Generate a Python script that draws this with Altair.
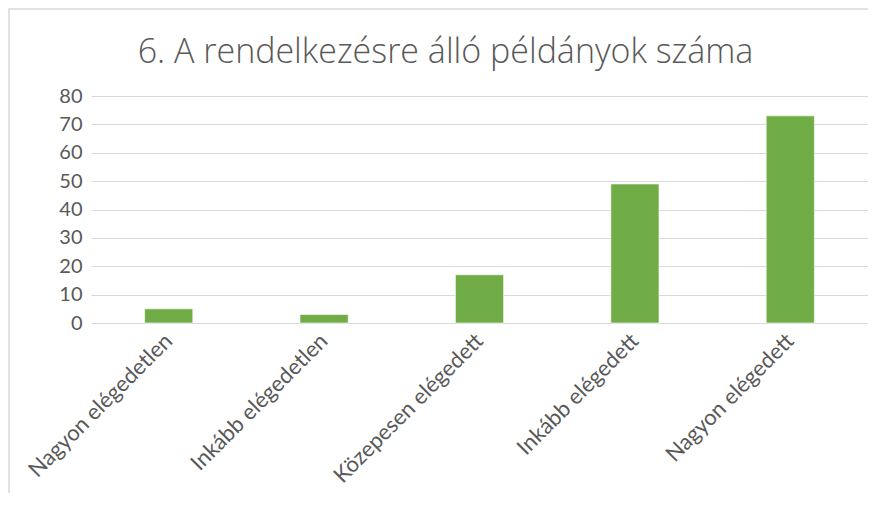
import altair as alt
import pandas as pd

categories = ["Nagyon elégedetlen", "Inkább elégedetlen", "Közepesen elégedett",
              "Inkább elégedett", "Nagyon elégedett"]
values = [5, 3, 17, 49, 73]
y_ticks = [0, 10, 20, 30, 40, 50, 60, 70, 80]
title_text = "6. A rendelkezésre álló példányok száma"

df = pd.DataFrame({"cat": categories, "val": values})

FONT = "Lato"
GREY = "#595959"

bars = alt.Chart(df).mark_bar(color="#70AD47", stroke="#ffffff", strokeWidth=0.6).encode(
    x=alt.X("cat:N", sort=categories, title=None,
            scale=alt.Scale(paddingInner=0.69, paddingOuter=0.345),
            axis=alt.Axis(labelAngle=-45, labelAlign="right", labelBaseline="middle",
                          labelPadding=14, ticks=False, domain=False,
                          labelFontSize=22, labelColor=GREY, labelFont=FONT,
                          labelLimit=400)),
    y=alt.Y("val:Q", title=None,
            scale=alt.Scale(domain=[0, 80], nice=False),
            axis=alt.Axis(values=y_ticks, ticks=False, domain=False,
                          labelPadding=9, labelFontSize=20, labelColor=GREY,
                          labelFont=FONT, gridColor="#d9d9d9", gridWidth=1.2)),
)

border = alt.Chart(pd.DataFrame({"b": [0]})).mark_rect(
    filled=False, stroke="#d9d9d9", strokeWidth=1.5
).encode(
    x=alt.value(-82), y=alt.value(-87), x2=alt.value(900), y2=alt.value(520)
)

chart = alt.layer(border, bars).properties(
    width=777, height=227,
    autosize=alt.AutoSizeParams(type="none"),
    padding={"left": 83, "top": 88, "right": 0, "bottom": 170},
    title=alt.TitleParams(title_text, fontSize=34, font="Open Sans", fontWeight=300,
                          color=GREY, anchor="middle", dx=-34, offset=-62),
).configure_view(stroke=None)

chart.save("out.html", embed_options={"renderer": "svg", "actions": False})
